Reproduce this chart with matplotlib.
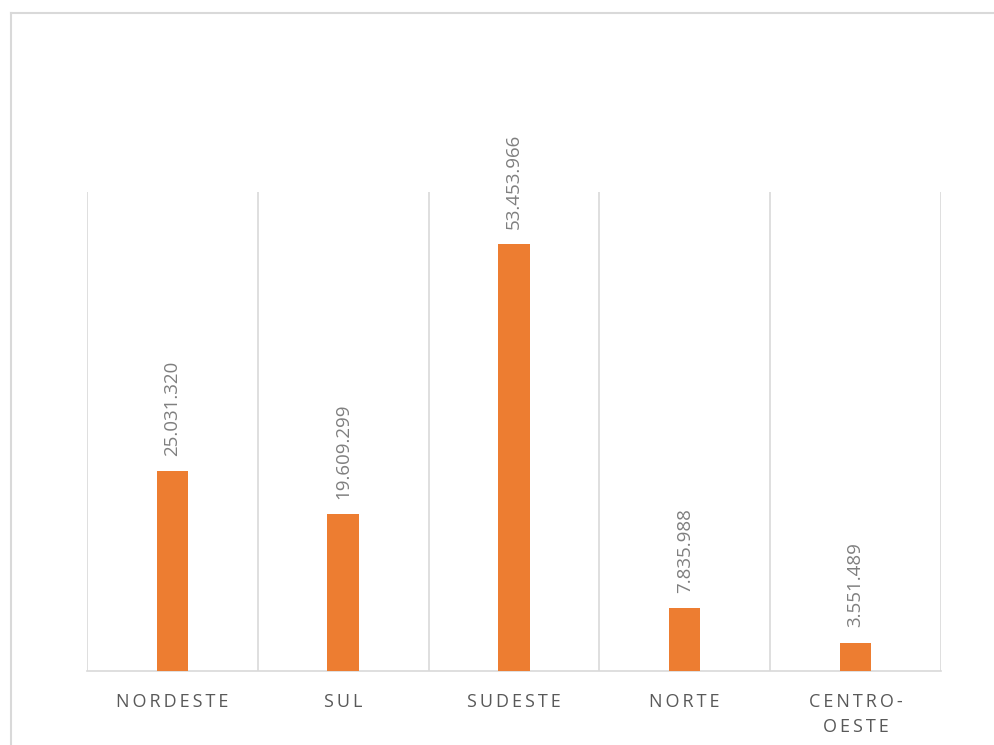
import matplotlib.pyplot as plt
from matplotlib.lines import Line2D

regioes = ['NORDESTE', 'SUL', 'SUDESTE', 'NORTE', 'CENTRO-\nOESTE']
populacao = [25031320, 19609299, 53453966, 7835988, 3551489]

plt.rcParams['font.family'] = ['Open Sans', 'DejaVu Sans']

fig = plt.figure(figsize=(9.94, 7.45), dpi=100)
ax = fig.add_axes([0.0875, 0.0993, 0.859, 0.643])

x = range(len(regioes))
ax.bar(x, populacao, width=0.185, color='#ED7D31', zorder=3)

for i, v in enumerate(populacao):
    txt = f'{v:,}'.replace(',', '.')
    ax.annotate(txt, (i, v), xytext=(0, 11), textcoords='offset points',
                rotation=90, ha='center', va='bottom', fontsize=13.5, color='#7f7f7f')

ax.set_xlim(-0.5, len(regioes) - 0.5)
ax.set_ylim(0, 60000000)
for b in [i + 0.5 for i in range(-1, len(regioes))]:
    ax.axvline(b, color='#d9d9d9', lw=1.2, zorder=1)

ax.set_yticks([])
ax.set_xticks(list(x))
spaced = ['\n'.join('\u2009'.join(part) for part in r.split('\n')) for r in regioes]
ax.set_xticklabels(spaced, fontsize=13, color='#595959', linespacing=1.5)
ax.tick_params(axis='x', length=0, pad=16)
for s in ['top', 'left', 'right']:
    ax.spines[s].set_visible(False)
ax.spines['bottom'].set_color('#d9d9d9')
ax.spines['bottom'].set_linewidth(1.2)

# moldura do grafico
fig.add_artist(Line2D([11 / 994, 1], [1 - 13 / 745] * 2, transform=fig.transFigure, color='#d9d9d9', lw=1.5))
fig.add_artist(Line2D([11 / 994] * 2, [0, 1 - 13 / 745], transform=fig.transFigure, color='#d9d9d9', lw=1.5))

fig.savefig('out.png', dpi=100)
